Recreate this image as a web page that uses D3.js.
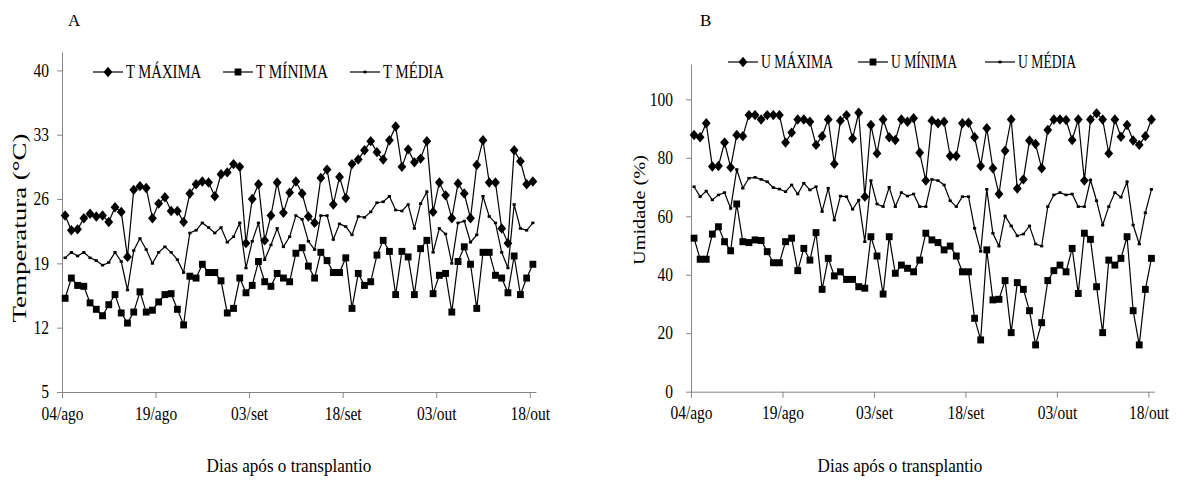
<!DOCTYPE html>
<html>
<head>
<meta charset="utf-8">
<script src="https://cdn.jsdelivr.net/npm/d3@7"></script>
<style>
  body { margin: 0; background: #fff; }
  svg { display: block; }
  text { font-family: "Liberation Serif", "Times New Roman", serif; fill: #000; }
</style>
</head>
<body>
<svg id="chart" width="1184" height="482"></svg>
<script>
// days after transplant: 04/ago .. 18/out (76 days)
var nDays = 76;
var dayTicks = [0, 15, 30, 45, 60, 75];
var dayLabels = ["04/ago", "19/ago", "03/set", "18/set", "03/out", "18/out"];

// panel A - temperature (°C)
var tempTicks = [5, 12, 19, 26, 33, 40];
var tMax = [24.2, 22.6, 22.7, 23.9, 24.4, 24.1, 24.2, 23.5, 25.1, 24.6, 19.7, 27.0, 27.4, 27.2, 23.9, 25.5, 26.2, 24.7, 24.7, 23.5,
            26.6, 27.6, 27.9, 27.8, 26.3, 28.7, 28.9, 29.8, 29.5, 21.2, 26.0, 27.6, 21.5, 24.2, 27.8, 24.5, 26.7, 27.9, 26.6, 24.1,
            23.4, 28.3, 29.2, 25.4, 28.4, 26.1, 29.8, 30.3, 31.3, 32.3, 31.1, 30.3, 32.4, 33.9, 29.5, 31.4, 30.0, 30.4, 32.3, 24.6,
            27.8, 26.4, 23.9, 27.7, 26.6, 23.9, 29.7, 32.4, 27.8, 27.8, 22.8, 21.2, 31.3, 30.1, 27.6, 27.9];
var tMin = [15.2, 17.4, 16.6, 16.5, 14.7, 14.0, 13.3, 14.5, 15.6, 13.6, 12.5, 13.7, 15.9, 13.7, 13.9, 14.8, 15.6, 15.7, 14.0, 12.3,
            17.6, 17.4, 18.9, 18.0, 18.0, 17.1, 13.6, 14.1, 17.4, 15.8, 16.6, 19.2, 17.0, 16.5, 17.9, 17.4, 17.0, 20.1, 20.7, 18.7,
            17.4, 20.2, 19.3, 18.0, 18.0, 19.6, 14.1, 17.9, 16.6, 17.0, 19.9, 21.5, 20.3, 15.6, 20.3, 19.7, 15.6, 20.6, 21.5, 15.7,
            17.7, 17.9, 13.7, 19.2, 20.8, 18.9, 14.1, 20.2, 20.2, 17.7, 17.4, 15.8, 19.8, 15.6, 17.4, 18.9];
var tMed = [19.6, 20.2, 19.8, 20.2, 19.6, 19.3, 18.8, 19.1, 20.2, 19.2, 16.1, 20.4, 21.7, 20.5, 19.0, 20.2, 20.8, 20.2, 19.4, 18.0,
            22.3, 22.6, 23.4, 22.9, 22.3, 22.9, 21.3, 21.9, 23.4, 18.5, 21.4, 23.4, 19.4, 21.0, 22.8, 20.8, 21.9, 24.2, 23.8, 21.4,
            20.5, 24.2, 24.2, 21.6, 23.3, 23.0, 22.1, 24.1, 24.0, 24.6, 25.6, 25.7, 26.3, 24.8, 24.7, 25.4, 22.8, 25.5, 26.8, 20.2,
            22.8, 22.2, 19.0, 23.4, 23.6, 21.3, 22.1, 26.3, 24.1, 23.4, 20.2, 18.5, 25.4, 22.8, 22.6, 23.4];

// panel B - relative humidity (%)
var humTicks = [0, 20, 40, 60, 80, 100];
var uMax = [87.8, 87.0, 91.8, 77.0, 77.2, 85.2, 76.7, 87.8, 87.4, 94.6, 94.6, 93.1, 94.6, 94.6, 94.6, 85.2, 88.6, 93.1, 93.1, 92.3,
            84.4, 87.4, 93.1, 77.9, 92.7, 94.6, 86.6, 95.4, 66.7, 91.2, 81.5, 93.1, 87.0, 86.1, 93.1, 92.3, 93.5, 81.7, 72.2, 92.7,
            91.8, 92.3, 80.6, 80.6, 91.8, 92.0, 87.0, 77.2, 90.1, 76.4, 67.6, 82.4, 93.1, 69.5, 72.6, 85.9, 84.7, 76.4, 89.5, 93.1,
            93.1, 92.9, 86.1, 93.1, 72.2, 93.1, 95.2, 93.1, 81.5, 93.1, 87.2, 91.2, 85.9, 84.4, 87.4, 93.1];
var uMin = [52.5, 45.3, 45.3, 53.9, 56.4, 51.3, 48.2, 64.2, 51.3, 51.0, 51.9, 51.7, 47.9, 44.1, 44.1, 51.3, 52.5, 41.4, 49.0, 45.0,
            54.4, 35.0, 45.6, 39.6, 41.0, 38.4, 38.4, 35.9, 35.4, 53.0, 46.4, 33.4, 53.0, 40.5, 43.3, 42.2, 41.0, 45.0, 54.2, 51.9,
            51.0, 48.5, 49.8, 46.4, 41.0, 41.0, 25.1, 17.7, 48.5, 31.4, 31.6, 38.0, 20.2, 37.3, 35.0, 27.7, 16.0, 23.6, 38.0, 41.4,
            43.3, 41.0, 49.0, 33.6, 54.2, 52.1, 35.9, 20.2, 45.0, 43.3, 45.6, 53.0, 27.7, 16.0, 35.0, 45.6];
var uMed = [70.1, 66.7, 68.6, 65.6, 67.3, 68.1, 62.7, 76.0, 69.6, 73.0, 73.3, 72.6, 71.8, 69.8, 69.3, 68.4, 70.7, 67.6, 71.3, 69.0,
            70.1, 61.6, 69.6, 58.7, 66.9, 66.7, 62.4, 65.5, 51.3, 72.2, 64.2, 63.3, 69.9, 63.3, 68.1, 66.9, 67.6, 63.3, 63.3, 72.6,
            72.2, 70.7, 65.3, 63.3, 66.7, 66.7, 55.9, 48.0, 69.2, 54.2, 49.8, 60.1, 56.7, 53.3, 53.9, 56.7, 50.5, 49.8, 63.3, 67.3,
            68.1, 67.3, 67.6, 63.3, 63.3, 72.4, 65.3, 57.0, 63.3, 68.1, 66.5, 71.8, 57.0, 50.5, 61.2, 69.2];

var svg = d3.select("#chart");
var axisColor = "#868686";

// excel-ish text is a bit narrow, squeeze it horizontally
function squeeze(sel, k) {
    sel.each(function() {
        var w = this.getComputedTextLength();
        d3.select(this).attr("textLength", w * k).attr("lengthAdjust", "spacingAndGlyphs");
    });
}

function drawMarker(g, type, cx, cy) {
    if (type == "diamond") {
        g.append("path")
            .attr("d", `M${cx},${cy - 5.2} L${cx + 4.4},${cy} L${cx},${cy + 5.2} L${cx - 4.4},${cy} Z`)
            .attr("fill", "#000");
    } else if (type == "square") {
        g.append("rect")
            .attr("x", cx - 3.4).attr("y", cy - 3.5)
            .attr("width", 6.8).attr("height", 7)
            .attr("fill", "#000");
    } else {
        g.append("rect")
            .attr("x", cx - 1.6).attr("y", cy - 1.3)
            .attr("width", 3.2).attr("height", 2.6)
            .attr("fill", "#000");
    }
}

function drawPanel(cfg) {
    var g = svg.append("g"),
        x = d3.scaleLinear().domain([0, nDays]).range([cfg.left, cfg.right]),
        y = d3.scaleLinear().domain(cfg.yDomain).range([cfg.bottom, cfg.top]);

    // axes
    var yAxis = g.append("g")
        .attr("transform", `translate(${cfg.left},0)`)
        .call(d3.axisLeft(y).tickValues(cfg.yTicks).tickSize(5).tickSizeOuter(0).tickPadding(cfg.yPad));
    var xAxis = g.append("g")
        .attr("transform", `translate(0,${cfg.bottom})`)
        .call(d3.axisBottom(x).tickValues(dayTicks).tickFormat((d, i) => dayLabels[i])
              .tickSize(6).tickSizeOuter(0).tickPadding(9));

    [yAxis, xAxis].forEach(a => {
        a.attr("font-size", null).attr("font-family", null);
        a.select(".domain").attr("stroke", axisColor);
        a.selectAll(".tick line").attr("stroke", axisColor);
        a.selectAll(".tick text").style("font-size", "18px").attr("fill", "#000");
        squeeze(a.selectAll(".tick text"), 0.86);
    });

    // series
    var line = d3.line().x((d, i) => x(i + 0.5)).y(d => y(d));
    cfg.series.forEach(s => {
        g.append("path")
            .datum(s.values)
            .attr("d", line)
            .attr("fill", "none")
            .attr("stroke", "#000")
            .attr("stroke-width", 1.2);
        var mg = g.append("g");
        s.values.forEach((v, i) => drawMarker(mg, s.marker, x(i + 0.5), y(v)));
    });

    // legend
    cfg.series.forEach(s => {
        var lg = g.append("g");
        lg.append("line")
            .attr("x1", s.lx).attr("x2", s.lx + 30)
            .attr("y1", cfg.legendY).attr("y2", cfg.legendY)
            .attr("stroke", "#000").attr("stroke-width", 1.2);
        drawMarker(lg, s.marker, s.lx + 15, cfg.legendY);
        lg.append("text")
            .attr("x", s.lx + 33)
            .attr("y", cfg.legendY + 6)
            .style("font-size", "18px")
            .attr("textLength", s.tw)
            .attr("lengthAdjust", "spacingAndGlyphs")
            .text(s.name);
    });

    // panel letter
    g.append("text")
        .attr("x", cfg.letterX).attr("y", 26)
        .style("font-size", "17px")
        .text(cfg.letter);

    // x title
    var xt = g.append("text")
        .attr("x", cfg.xTitleX).attr("y", 472)
        .attr("text-anchor", "middle")
        .style("font-size", "19px")
        .text("Dias após o transplantio");
    squeeze(xt, 0.9);

    // y title
    g.append("text")
        .attr("transform", `translate(${cfg.yTitle[0]},${cfg.yTitle[1]}) rotate(-90) scale(1,0.88)`)
        .attr("text-anchor", "middle")
        .style("font-size", cfg.yTitleSize + "px")
        .attr("textLength", cfg.yTitleLen)
        .attr("lengthAdjust", "spacingAndGlyphs")
        .text(cfg.yTitleText);
}

drawPanel({
    letter: "A", letterX: 68,
    left: 62, right: 536, top: 52, bottom: 392,
    yDomain: [5, 42], yTicks: tempTicks, yPad: 8,
    legendY: 72,
    xTitleX: 289,
    yTitle: [26, 228], yTitleText: "Temperatura (°C)", yTitleSize: 22, yTitleLen: 189,
    series: [
        {name: "T MÁXIMA", values: tMax, marker: "diamond", lx: 93, tw: 75},
        {name: "T MÍNIMA", values: tMin, marker: "square", lx: 223, tw: 72},
        {name: "T MÉDIA", values: tMed, marker: "dot", lx: 350, tw: 61}
    ]
});

drawPanel({
    letter: "B", letterX: 700,
    left: 691, right: 1154.5, top: 64.2, bottom: 391.7,
    yDomain: [0, 112], yTicks: humTicks, yPad: 13,
    legendY: 62,
    xTitleX: 900,
    yTitle: [645, 210], yTitleText: "Umidade (%)", yTitleSize: 20, yTitleLen: 110,
    series: [
        {name: "U MÁXIMA", values: uMax, marker: "diamond", lx: 728, tw: 72},
        {name: "U MÍNIMA", values: uMin, marker: "square", lx: 858, tw: 66},
        {name: "U MÉDIA", values: uMed, marker: "dot", lx: 985, tw: 58}
    ]
});
</script>
</body>
</html>
